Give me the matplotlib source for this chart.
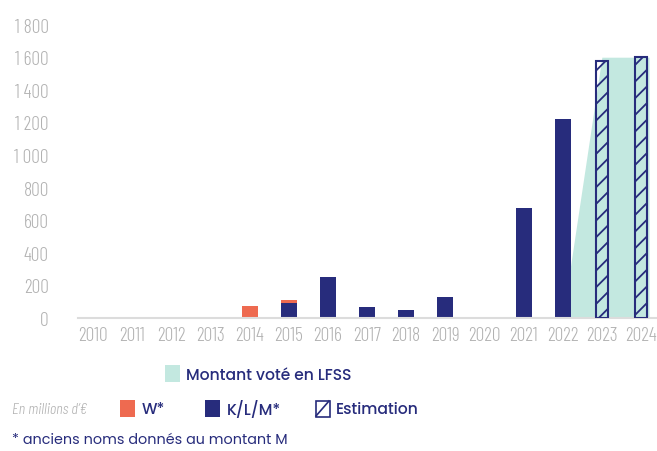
import matplotlib
matplotlib.use('Agg')
import matplotlib.pyplot as plt
from matplotlib import font_manager as fm
from matplotlib.patches import Rectangle

years = list(range(2010, 2025))
w_values = [0, 0, 0, 0, 75, 20, 0, 0, 0, 0, 0, 0, 0, 0, 0]
klm_values = [0, 0, 0, 0, 0, 90, 250, 65, 50, 130, 0, 675, 1220, 0, 0]
estim_years = [2023, 2024]
estim_values = [1575, 1600]
lfss_years = [2022, 2023, 2024]
lfss_values = [0, 1600, 1600]
yticks = list(range(0, 2000, 200))

NAVY = '#272c7c'
ORANGE = '#ee6a50'
TEAL = '#c3e8e0'
GRAY = '#b2b2b2'
TICK_FONT = ['Barlow Condensed', 'DejaVu Sans']

W, H = 657, 452
plt.rcParams['hatch.linewidth'] = 1.3


def pick_font(names, weight, size):
    # static font file with the wanted weight, first family that has one
    for name in names:
        for f in fm.fontManager.ttflist:
            if f.name == name and f.style == 'normal' and 'Variable' not in f.fname \
                    and '[' not in f.fname and int(f.weight) == weight:
                return fm.FontProperties(fname=f.fname, size=size)
    return fm.FontProperties(family='DejaVu Sans', size=size)


leg_prop = pick_font(['Poppins', 'Open Sans', 'Noto Sans'], 500, 11.2)
note_prop = pick_font(['Poppins', 'Open Sans', 'Noto Sans'], 400, 10.3)

fig = plt.figure(figsize=(W / 100, H / 100), dpi=100)
ax = fig.add_axes([78 / W, 1 - 319 / H, 1 - 78 / W, (319 - 25.6) / H])

bw = 0.41
# LFSS area, extended to the edge of the last bar
lx = list(lfss_years)
lx[-1] = lx[-1] + bw / 2
ax.fill_between(lx, lfss_values, color=TEAL, lw=0, zorder=1)

ax.bar(years, klm_values, width=bw, color=NAVY, zorder=2)
ax.bar(years, w_values, width=bw, bottom=klm_values, color=ORANGE, zorder=2)
ax.bar(estim_years, estim_values, width=0.32, facecolor='none', edgecolor=NAVY,
       hatch='//', lw=1.5, zorder=3)

ax.set_xlim(2010 - 15 / 39.14, 2024 + 16 / 39.14)
ax.set_ylim(0, 1800)
ax.set_xticks(years)
ax.set_xticklabels([str(y) for y in years], family=TICK_FONT, fontweight=300,
                   fontsize=14, color=GRAY)
ax.set_yticks(yticks)
ax.set_yticklabels([f"{v:,}".replace(',', ' ') for v in yticks], family=TICK_FONT,
                   fontweight=300, fontsize=14, color=GRAY)
ax.tick_params(axis='both', length=0)
ax.tick_params(axis='x', pad=6)
ax.tick_params(axis='y', pad=21)
for s in ['top', 'right', 'left']:
    ax.spines[s].set_visible(False)
ax.spines['bottom'].set_color('#dcdcdc')
ax.spines['bottom'].set_linewidth(1.5)


def box(x, y, w, h, **kw):
    fig.add_artist(Rectangle((x / W, 1 - (y + h) / H), w / W, h / H,
                             transform=fig.transFigure, **kw))


def label(x, y, s, **kw):
    fig.text(x / W, 1 - y / H, s, va='center', ha='left', **kw)


box(165, 366, 15, 17, facecolor=TEAL, lw=0)
label(186, 376, 'Montant voté en LFSS', fontproperties=leg_prop, color=NAVY)

label(12, 410, 'En millions d\u2019€', family=TICK_FONT, fontsize=11.5,
      fontweight=300, style='italic', color=GRAY)
box(120, 401, 15, 17, facecolor=ORANGE, lw=0)
label(142, 410, 'W*', fontproperties=leg_prop, color=NAVY)
box(205, 401, 15, 17, facecolor=NAVY, lw=0)
label(227, 410, 'K/L/M*', fontproperties=leg_prop, color=NAVY)
box(315.5, 401.5, 14, 16, facecolor='none', edgecolor=NAVY, lw=1.2)
fig.add_artist(plt.Line2D([316 / W, 329 / W], [1 - 417 / H, 1 - 402 / H],
                          transform=fig.transFigure, color=NAVY, lw=1.2))
label(336, 410, 'Estimation', fontproperties=leg_prop, color=NAVY)

label(12, 441, '* anciens noms donnés au montant M', fontproperties=note_prop,
      color=NAVY)

fig.savefig('out.png', dpi=100)
